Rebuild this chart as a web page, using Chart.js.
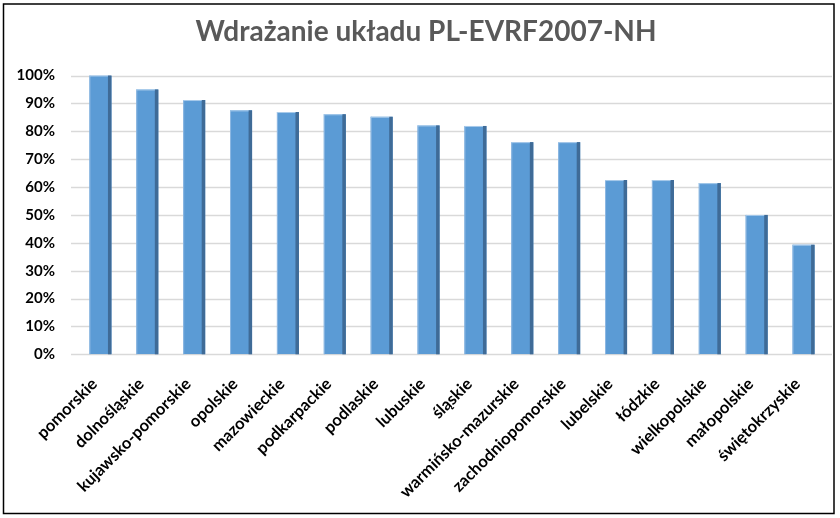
<!DOCTYPE html>
<html><head><meta charset="utf-8">
<script src="https://cdn.jsdelivr.net/npm/chart.js@4.4.1/dist/chart.umd.min.js"></script>
<style>html,body{margin:0;padding:0;background:#fff}#wrap{width:840px;height:518px;position:relative}</style>
</head><body><div id="wrap"><canvas id="c" width="840" height="518"></canvas></div>
<script>
const chartTitle = 'Wdrażanie układu PL-EVRF2007-NH';
const categories = ['pomorskie','dolnośląskie','kujawsko-pomorskie','opolskie','mazowieckie','podkarpackie','podlaskie','lubuskie','śląskie','warmińsko-mazurskie','zachodniopomorskie','lubelskie','łódzkie','wielkopolskie','małopolskie','świętokrzyskie'];
const values = [100,95,91.2,87.5,86.9,86.1,85.2,82.1,81.9,76.1,76.1,62.5,62.5,61.4,50,39.3];
const yTicks = [0,10,20,30,40,50,60,70,80,90,100];

const FONT = 'Lato, "Open Sans", sans-serif';

const frame = {
  id:'frame',
  beforeDraw(c){const x=c.ctx;x.save();x.fillStyle='#fff';x.fillRect(0,0,c.width,c.height);x.restore();},
  afterDraw(c){const x=c.ctx;x.save();x.strokeStyle='#000';x.lineWidth=1.5;x.strokeRect(3.5,4,830.5,509.5);x.restore();}
};
const grid = {
  id:'gridx',
  beforeDatasetsDraw(c){
    const x=c.ctx, a=c.chartArea, s=c.scales.y;
    x.save();x.strokeStyle='#D9D9D9';x.lineWidth=1.5;
    yTicks.forEach(v=>{const py=Math.round(s.getPixelForValue(v))+0.5;x.beginPath();x.moveTo(a.left-6,py);x.lineTo(a.right+5,py);x.stroke();});
    x.restore();
  }
};
const shade = {
  id:'shade',
  afterDatasetsDraw(c){
    const x=c.ctx;
    c.getDatasetMeta(0).data.forEach(el=>{
      const p=el.getProps(['x','y','base','width'],true);
      const l=p.x-p.width/2, r=p.x+p.width/2;
      x.save();
      x.fillStyle='#3F6B97';x.fillRect(r-3.5,p.y,3.5,p.base-p.y);
      x.fillStyle='#8FB8E2';x.fillRect(l,p.y,1,p.base-p.y);
      x.fillStyle='#A9CBEB';x.fillRect(l,p.y,p.width-3.5,1);
      x.restore();
    });
  }
};

new Chart(document.getElementById('c'),{
  type:'bar',
  data:{labels:categories,datasets:[{data:values,backgroundColor:'#5B9BD5',borderWidth:0,categoryPercentage:1,barPercentage:0.47}]},
  options:{
    responsive:false,animation:false,devicePixelRatio:1,
    layout:{padding:{left:13,right:1,top:0,bottom:0}},
    plugins:{
      legend:{display:false},tooltip:{enabled:false},
      title:{display:true,text:chartTitle,color:'#595959',font:{family:FONT,size:28,weight:'bold'},padding:{top:15.2,bottom:26.7}}
    },
    scales:{
      y:{min:0,max:100,afterFit(s){s.width=64;},
        grid:{display:false,drawTicks:false},border:{display:false},
        afterBuildTicks(s){s.ticks=yTicks.map(v=>({value:v}));},
        ticks:{padding:22,color:'#000',font:{family:FONT,size:15,weight:'bold'},callback:v=>v+'%'}},
      yR:{type:'linear',position:'right',display:true,afterFit(s){s.width=12;},
        grid:{display:false,drawTicks:false},border:{display:false},ticks:{display:false}},
      x:{afterFit(s){s.height=163.7;},
        grid:{display:false,drawTicks:false},border:{display:false},
        ticks:{autoSkip:false,minRotation:45,maxRotation:45,padding:20,labelOffset:-6,color:'#000',font:{family:FONT,size:16.5,weight:'bold'}}}
    }
  },
  plugins:[frame,grid,shade]
});
</script></body></html>
